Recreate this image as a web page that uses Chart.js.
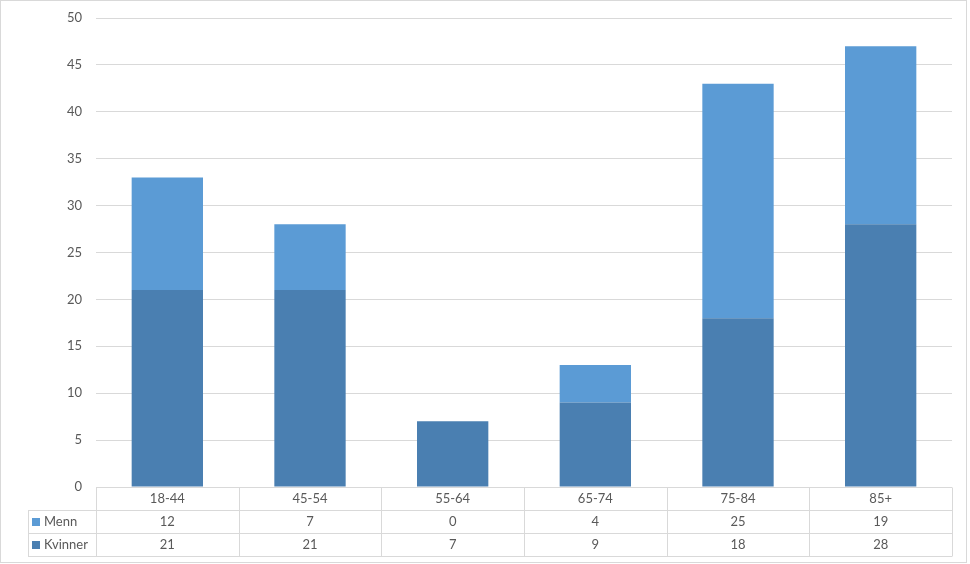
<!DOCTYPE html>
<html>
<head>
<meta charset="utf-8">
<script src="https://cdn.jsdelivr.net/npm/chart.js@4"></script>
<style>
  html, body { margin: 0; padding: 0; background: #fff; }
  #wrap { width: 970px; height: 564px; }
</style>
</head>
<body>
<div id="wrap"><canvas id="chart" width="970" height="564"></canvas></div>
<script>
// Data
const categories = ['18-44', '45-54', '55-64', '65-74', '75-84', '85+'];
const kvinner = [21, 21, 7, 9, 18, 28];
const menn = [12, 7, 0, 4, 25, 19];
const yTicks = [0, 5, 10, 15, 20, 25, 30, 35, 40, 45, 50];

const FONT = 'Lato, "Open Sans", sans-serif';
const TEXT = '#595959';
const LINE = '#d9d9d9';
const C_MENN = '#5b9bd5';
const C_KVINNER = '#4a7fb1';

// data table drawn under the plot, lined up with the category scale
const dataTable = {
    id: 'dataTable',
    afterDraw(chart) {
        const c = chart.ctx;
        const area = chart.chartArea;
        const x = chart.scales.x;
        const rowH = 23;
        const legendLeft = 28;
        const top = Math.round(area.bottom) + 0.5;
        const step = (area.right - area.left) / categories.length;
        c.save();
        c.strokeStyle = LINE;
        c.lineWidth = 1;
        c.beginPath();
        // horizontal lines
        c.moveTo(area.left, top); c.lineTo(area.right, top);
        for (let r = 1; r <= 3; r++) {
            c.moveTo(legendLeft, top + rowH * r);
            c.lineTo(area.right, top + rowH * r);
        }
        // vertical lines
        c.moveTo(legendLeft + 0.5, top + rowH); c.lineTo(legendLeft + 0.5, top + rowH * 3);
        for (let i = 0; i <= categories.length; i++) {
            const px = Math.round(area.left + step * i) + 0.5;
            c.moveTo(px, top); c.lineTo(px, top + rowH * 3);
        }
        c.stroke();

        c.fillStyle = TEXT;
        c.font = '13px ' + FONT;
        c.textAlign = 'center';
        c.textBaseline = 'middle';
        categories.forEach((cat, i) => {
            const cx = x.getPixelForValue(i);
            c.fillText(cat, cx, top + rowH * 0.5);
            c.fillText(String(menn[i]), cx, top + rowH * 1.5);
            c.fillText(String(kvinner[i]), cx, top + rowH * 2.5);
        });

        // series keys
        c.textAlign = 'left';
        c.fillStyle = C_MENN;
        c.fillRect(32, top + rowH * 1.5 - 4, 8, 8);
        c.fillStyle = C_KVINNER;
        c.fillRect(32, top + rowH * 2.5 - 4, 8, 8);
        c.fillStyle = TEXT;
        c.fillText('Menn', 44, top + rowH * 1.5);
        c.fillText('Kvinner', 44, top + rowH * 2.5);

        // outer frame
        c.strokeStyle = LINE;
        c.strokeRect(0.5, 0.5, 966, 562);
        c.restore();
    }
};

const ctx = document.getElementById('chart').getContext('2d');
new Chart(ctx, {
    type: 'bar',
    data: {
        labels: categories,
        datasets: [{
            label: 'Kvinner',
            data: kvinner,
            backgroundColor: C_KVINNER,
            categoryPercentage: 0.5,
            barPercentage: 1
        }, {
            label: 'Menn',
            data: menn,
            backgroundColor: C_MENN,
            categoryPercentage: 0.5,
            barPercentage: 1
        }]
    },
    options: {
        responsive: false,
        animation: false,
        layout: { padding: { top: 18, right: 18, bottom: 77, left: 0 } },
        plugins: {
            legend: { display: false },
            tooltip: { enabled: false }
        },
        scales: {
            x: {
                stacked: true,
                display: false
            },
            y: {
                stacked: true,
                min: 0,
                max: 50,
                afterBuildTicks: s => { s.ticks = yTicks.map(v => ({ value: v })); },
                afterFit: s => { s.width = 96; s.paddingTop = 0; s.paddingBottom = 0; },
                grid: { color: LINE, drawTicks: false },
                border: { display: false },
                ticks: {
                    color: TEXT,
                    padding: 14,
                    font: { family: FONT, size: 13 }
                }
            }
        }
    },
    plugins: [dataTable]
});
</script>
</body>
</html>
